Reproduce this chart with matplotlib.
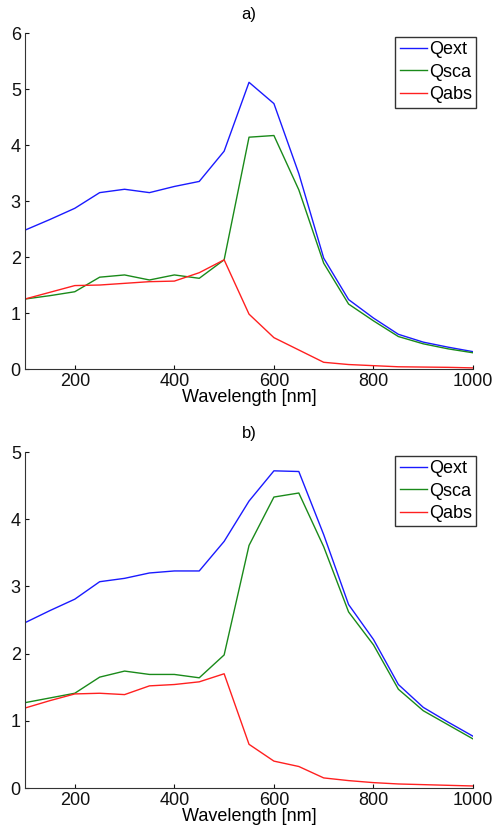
import matplotlib
matplotlib.use("Agg")
import matplotlib.pyplot as plt

wavelength = [100, 150, 200, 250, 300, 350, 400, 450, 500, 550, 600, 650, 700, 750, 800, 850, 900, 950, 1000]

qext_a = [2.48, 2.67, 2.87, 3.15, 3.21, 3.15, 3.26, 3.35, 3.89, 5.12, 4.74, 3.49, 1.98, 1.24, 0.91, 0.62, 0.48, 0.39, 0.31]
qsca_a = [1.25, 1.31, 1.38, 1.64, 1.68, 1.59, 1.68, 1.62, 1.95, 4.14, 4.17, 3.20, 1.89, 1.16, 0.86, 0.58, 0.45, 0.36, 0.29]
qabs_a = [1.25, 1.37, 1.49, 1.50, 1.53, 1.56, 1.57, 1.72, 1.95, 0.98, 0.56, 0.34, 0.12, 0.08, 0.06, 0.04, 0.035, 0.03, 0.02]

qext_b = [2.46, 2.64, 2.81, 3.07, 3.12, 3.20, 3.23, 3.23, 3.67, 4.27, 4.72, 4.71, 3.77, 2.73, 2.21, 1.54, 1.20, 0.98, 0.77]
qsca_b = [1.27, 1.34, 1.41, 1.65, 1.74, 1.69, 1.69, 1.64, 1.98, 3.61, 4.33, 4.39, 3.59, 2.62, 2.13, 1.47, 1.15, 0.94, 0.73]
qabs_b = [1.19, 1.30, 1.40, 1.41, 1.39, 1.52, 1.54, 1.58, 1.70, 0.65, 0.40, 0.32, 0.15, 0.11, 0.08, 0.06, 0.05, 0.04, 0.03]

series_names = ["Qext", "Qsca", "Qabs"]
colors = ["#1a1aff", "#1a8a1a", "#ff2020"]
titles = ["a)", "b)"]
ymax = [6, 5]
xticks = [200, 400, 600, 800, 1000]

plt.rcParams['font.family'] = ['Liberation Sans', 'DejaVu Sans']
fig = plt.figure(figsize=(4.94, 8.30), dpi=100)
ax_a = fig.add_axes([0.0506, 0.5554, 0.907, 0.4048])
ax_b = fig.add_axes([0.0506, 0.0506, 0.907, 0.4048])

for ax, data, title, ym in [(ax_a, [qext_a, qsca_a, qabs_a], titles[0], ymax[0]),
                            (ax_b, [qext_b, qsca_b, qabs_b], titles[1], ymax[1])]:
    for name, vals, c in zip(series_names, data, colors):
        ax.plot(wavelength, vals, color=c, lw=1.0, label=name)
    ax.set_xlim(100, 1000)
    ax.set_ylim(0, ym)
    ax.set_xticks(xticks)
    ax.set_yticks(range(0, ym + 1))
    ax.spines['top'].set_visible(False)
    ax.spines['right'].set_visible(False)
    for s in ['left', 'bottom']:
        ax.spines[s].set_color('#333333')
        ax.spines[s].set_linewidth(0.8)
    ax.tick_params(direction='in', length=3, labelsize=13, colors='#111111', pad=3)
    ax.set_title(title, fontsize=12, pad=10)
    ax.set_xlabel("Wavelength [nm]", fontsize=13, labelpad=-1)
    leg = ax.legend(loc='upper right', bbox_to_anchor=(1.015, 1.0), fontsize=13,
                    handlelength=1.5, handletextpad=0.1, borderpad=0.25, labelspacing=0.3,
                    fancybox=False, framealpha=1, borderaxespad=0.2)
    leg.get_frame().set_edgecolor('#333333')
    leg.get_frame().set_linewidth(1.0)

fig.savefig("out.png", dpi=100)
